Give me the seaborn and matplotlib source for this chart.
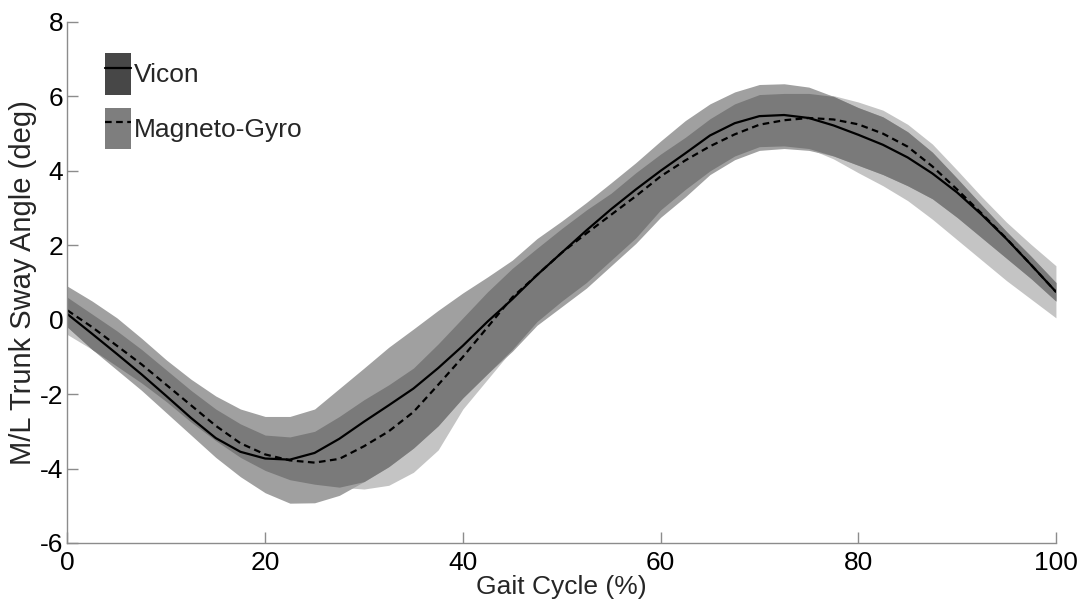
import numpy as np
import pandas as pd
import matplotlib
matplotlib.use("Agg")
import matplotlib.pyplot as plt
import seaborn as sns
from matplotlib.patches import Patch
from matplotlib.lines import Line2D
from matplotlib.legend_handler import HandlerTuple

# ---- data ----
gait = np.arange(0, 100.01, 2.5)

vicon_mean = [0.15, -0.38, -0.92, -1.47, -2.05, -2.64, -3.18, -3.55, -3.73, -3.76,
              -3.58, -3.20, -2.74, -2.30, -1.85, -1.30, -0.70, -0.05, 0.55, 1.20,
              1.80, 2.40, 2.97, 3.50, 4.00, 4.47, 4.95, 5.28, 5.47, 5.50,
              5.42, 5.22, 4.97, 4.70, 4.36, 3.93, 3.42, 2.82, 2.17, 1.47, 0.75]
vicon_hi = [0.9, 0.5, 0.05, -0.5, -1.08, -1.6, -2.05, -2.4, -2.6, -2.6,
            -2.4, -1.85, -1.3, -0.74, -0.25, 0.25, 0.72, 1.15, 1.6, 2.18,
            2.65, 3.15, 3.68, 4.22, 4.8, 5.35, 5.8, 6.12, 6.32, 6.34,
            6.25, 6.0, 5.7, 5.45, 5.05, 4.5, 3.8, 3.08, 2.37, 1.7, 1.0]
vicon_lo = [-0.2, -0.8, -1.35, -1.9, -2.5, -3.1, -3.7, -4.22, -4.65, -4.93,
            -4.92, -4.72, -4.35, -3.95, -3.45, -2.85, -2.1, -1.45, -0.85, -0.15,
            0.35, 0.85, 1.45, 2.05, 2.75, 3.3, 3.9, 4.3, 4.55, 4.6,
            4.55, 4.4, 4.15, 3.9, 3.6, 3.25, 2.75, 2.2, 1.65, 1.1, 0.5]

magneto_mean = [0.25, -0.2, -0.7, -1.2, -1.75, -2.3, -2.85, -3.32, -3.62, -3.78,
                -3.84, -3.74, -3.40, -3.0, -2.48, -1.75, -1.0, -0.2, 0.6, 1.2,
                1.8, 2.32, 2.82, 3.32, 3.85, 4.28, 4.66, 4.98, 5.24, 5.36,
                5.42, 5.38, 5.25, 5.0, 4.65, 4.12, 3.5, 2.85, 2.18, 1.47, 0.75]
magneto_hi = [0.6, 0.15, -0.3, -0.8, -1.35, -1.9, -2.4, -2.8, -3.1, -3.15,
              -3.0, -2.6, -2.15, -1.75, -1.3, -0.65, 0.05, 0.75, 1.38, 1.92,
              2.45, 2.95, 3.4, 3.95, 4.45, 4.9, 5.4, 5.8, 6.05, 6.08,
              6.08, 6.02, 5.85, 5.63, 5.25, 4.72, 4.02, 3.3, 2.62, 2.02, 1.45]
magneto_lo = [-0.4, -0.8, -1.25, -1.7, -2.2, -2.75, -3.25, -3.7, -4.05, -4.3,
              -4.42, -4.5, -4.55, -4.45, -4.1, -3.5, -2.4, -1.6, -0.8, -0.05,
              0.5, 1.0, 1.6, 2.2, 2.95, 3.5, 4.0, 4.4, 4.65, 4.67,
              4.6, 4.32, 3.95, 3.6, 3.2, 2.7, 2.15, 1.6, 1.05, 0.55, 0.05]

series_labels = ["Vicon", "Magneto-Gyro"]
x_ticks = [0, 20, 40, 60, 80, 100]
y_ticks = [-6, -4, -2, 0, 2, 4, 6, 8]

# ---- style ----
sns.set_style("ticks")
plt.rcParams['font.family'] = ['Liberation Sans', 'DejaVu Sans']
plt.rcParams['axes.unicode_minus'] = False

LIGHT = '#c4c4c4'   # magneto-only
MED = '#a0a0a0'     # vicon-only
DARK = '#7a7a7a'    # overlap
SPINE = '#8c8c8c'

fig = plt.figure(figsize=(10.83, 5.99), dpi=100)
ax = fig.add_axes([0.0623, 0.0935, 0.9127, 0.8698])

df = pd.DataFrame({
    'gait': gait,
    'vicon': vicon_mean, 'v_lo': vicon_lo, 'v_hi': vicon_hi,
    'magneto': magneto_mean, 'm_lo': magneto_lo, 'm_hi': magneto_hi,
})

ax.fill_between(df['gait'], df['m_lo'], df['m_hi'], color=LIGHT, lw=0)
ax.fill_between(df['gait'], df['v_lo'], df['v_hi'], color=MED, lw=0)
ov_lo = np.maximum(df['v_lo'], df['m_lo'])
ov_hi = np.minimum(df['v_hi'], df['m_hi'])
ax.fill_between(df['gait'], ov_lo, ov_hi, where=ov_hi > ov_lo, interpolate=True,
                color=DARK, lw=0)

sns.lineplot(data=df, x='gait', y='vicon', ax=ax, color='black', lw=1.6, legend=False)
sns.lineplot(data=df, x='gait', y='magneto', ax=ax, color='black', lw=1.6,
             linestyle=(0, (3, 2)), legend=False)

ax.set_xlim(0, 100)
ax.set_ylim(-6, 8)
ax.set_xticks(x_ticks)
ax.set_yticks(y_ticks)
ax.set_xticklabels([str(t) for t in x_ticks])
ax.set_yticklabels([str(t) for t in y_ticks])

for s in ['top', 'right']:
    ax.spines[s].set_visible(False)
for s in ['left', 'bottom']:
    ax.spines[s].set_color(SPINE)
    ax.spines[s].set_linewidth(1.0)

ax.tick_params(axis='both', direction='in', length=8, width=1, color=SPINE,
               labelcolor='black', labelsize=19)
ax.tick_params(axis='y', pad=3)
ax.tick_params(axis='x', pad=6)

ax.set_xlabel('Gait Cycle (%)', fontsize=19, labelpad=0)
ax.set_ylabel('M/L Trunk Sway Angle (deg)', fontsize=21)
ax.yaxis.set_label_coords(-0.031, 0.5)

h1 = (Patch(facecolor='#474747', edgecolor='none'),
      Line2D([], [], color='black', lw=1.6))
h2 = (Patch(facecolor='#7e7e7e', edgecolor='none'),
      Line2D([], [], color='black', lw=1.6, linestyle=(0, (3, 2))))
ax.legend([h1, h2], series_labels,
          handler_map={tuple: HandlerTuple(ndivide=1, pad=0)},
          loc='upper left', bbox_to_anchor=(0.038, 0.9405), frameon=False,
          fontsize=19, handlelength=0.98, handleheight=2.05, handletextpad=0.12,
          labelspacing=0.5, borderpad=0, borderaxespad=0)

fig.savefig('out.png', dpi=100)
